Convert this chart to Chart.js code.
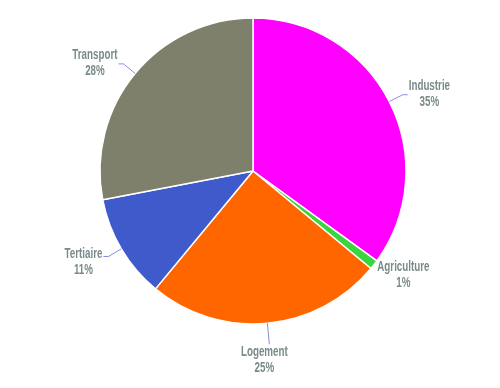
<!DOCTYPE html>
<html>
<head>
<meta charset="utf-8">
<script src="https://cdn.jsdelivr.net/npm/chart.js@4/dist/chart.umd.min.js"></script>
<style>
html,body{margin:0;padding:0;background:#fff;}
#wrap{width:500px;height:388px;position:relative;}
</style>
</head>
<body>
<div id="wrap"><canvas id="c" width="500" height="388"></canvas></div>
<script>
const categories = ['Industrie', 'Agriculture', 'Logement', 'Tertiaire', 'Transport'];
const shares = [35, 1, 25, 11, 28];
const sliceColors = ['#ff00ff', '#3ad63f', '#ff6600', '#3f5bcb', '#7f806b'];

const labelPlugin = {
  id: 'pieLabels',
  afterDatasetsDraw(chart) {
    const ctx = chart.ctx;
    const meta = chart.getDatasetMeta(0);
    const total = shares.reduce((a, b) => a + b, 0);
    const sx = 0.7;
    ctx.save();
    ctx.font = 'bold 14px "Liberation Sans", Arial, sans-serif';
    ctx.fillStyle = '#7a8a8a';
    ctx.strokeStyle = '#8a8ae6';
    ctx.lineWidth = 1;
    ctx.textBaseline = 'middle';
    ctx.textAlign = 'center';
    const drawText = (t, x, y) => {
      ctx.save();
      ctx.translate(x, y);
      ctx.scale(sx, 1);
      ctx.fillText(t, 0, 0);
      ctx.restore();
    };
    meta.data.forEach((arc, i) => {
      const p = arc.getProps(['x', 'y', 'startAngle', 'endAngle', 'outerRadius'], true);
      const mid = (p.startAngle + p.endAngle) / 2;
      const cs = Math.cos(mid), sn = Math.sin(mid);
      const r = p.outerRadius;
      const ex = p.x + cs * r, ey = p.y + sn * r;
      const pct = Math.round(shares[i] / total * 100) + '%';
      const lines = [categories[i], pct];
      const w = Math.max(ctx.measureText(lines[0]).width, ctx.measureText(lines[1]).width) * sx;
      if (Math.abs(cs) < 0.3) {
        const d = 21;
        const ox = p.x + cs * (r + d), oy = p.y + sn * (r + d);
        ctx.beginPath();
        ctx.moveTo(ex, ey);
        ctx.lineTo(ox, oy);
        ctx.stroke();
        const tx = ox - 5;
        drawText(lines[0], tx, oy + 8);
        drawText(lines[1], tx, oy + 24);
      } else {
        const small = shares[i] / total < 0.03;
        const d = small ? 3 : 15;
        const ox = p.x + cs * (r + d), oy = p.y + sn * (r + d);
        const side = cs > 0 ? 1 : -1;
        let tx, ty;
        if (!small) {
          const hx = ox + side * 5;
          ctx.beginPath();
          ctx.moveTo(ex, ey);
          ctx.lineTo(ox, oy);
          ctx.lineTo(hx, oy);
          ctx.stroke();
          tx = hx + side * (1 + w / 2);
          ty = oy - (sn < 0 ? 9 : 2);
        } else {
          tx = ox + side * (1 + w / 2);
          ty = oy + 1;
        }
        drawText(lines[0], tx, ty);
        drawText(lines[1], tx, ty + 16);
      }
    });
    ctx.restore();
  }
};

new Chart(document.getElementById('c'), {
  type: 'pie',
  data: {
    labels: categories,
    datasets: [{
      data: shares,
      backgroundColor: sliceColors,
      borderColor: '#ffffff',
      borderWidth: 1.5,
      radius: 153
    }]
  },
  options: {
    responsive: false,
    animation: false,
    layout: { padding: { top: 18, bottom: 64, left: 100, right: 94 } },
    plugins: { legend: { display: false }, tooltip: { enabled: false } }
  },
  plugins: [labelPlugin]
});
</script>
</body>
</html>
